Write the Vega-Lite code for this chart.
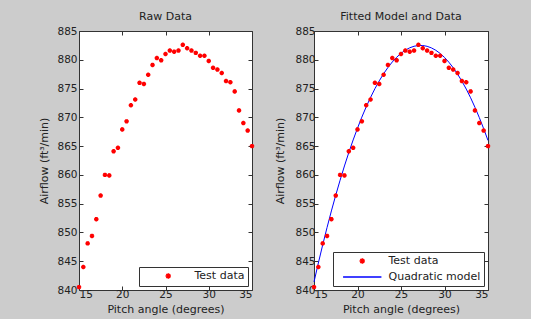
{
  "$schema": "https://vega.github.io/schema/vega-lite/v6.json",
  "background": "#cccccc",
  "padding": {"left": 38, "top": 10, "right": 37, "bottom": 6},
  "spacing": 16,
  "datasets": {
    "raw": [
      {"angle": 15, "airflow": 840.5, "series": "Test data"},
      {"angle": 15.5, "airflow": 844.0, "series": "Test data"},
      {"angle": 16, "airflow": 848.1, "series": "Test data"},
      {"angle": 16.5, "airflow": 849.4, "series": "Test data"},
      {"angle": 17, "airflow": 852.3, "series": "Test data"},
      {"angle": 17.5, "airflow": 856.4, "series": "Test data"},
      {"angle": 18, "airflow": 860.0, "series": "Test data"},
      {"angle": 18.5, "airflow": 859.9, "series": "Test data"},
      {"angle": 19, "airflow": 864.1, "series": "Test data"},
      {"angle": 19.5, "airflow": 864.7, "series": "Test data"},
      {"angle": 20, "airflow": 867.9, "series": "Test data"},
      {"angle": 20.5, "airflow": 869.3, "series": "Test data"},
      {"angle": 21, "airflow": 872.1, "series": "Test data"},
      {"angle": 21.5, "airflow": 873.1, "series": "Test data"},
      {"angle": 22, "airflow": 876.0, "series": "Test data"},
      {"angle": 22.5, "airflow": 875.8, "series": "Test data"},
      {"angle": 23, "airflow": 877.4, "series": "Test data"},
      {"angle": 23.5, "airflow": 879.1, "series": "Test data"},
      {"angle": 24, "airflow": 880.3, "series": "Test data"},
      {"angle": 24.5, "airflow": 879.9, "series": "Test data"},
      {"angle": 25, "airflow": 881.0, "series": "Test data"},
      {"angle": 25.5, "airflow": 881.6, "series": "Test data"},
      {"angle": 26, "airflow": 881.4, "series": "Test data"},
      {"angle": 26.5, "airflow": 881.6, "series": "Test data"},
      {"angle": 27, "airflow": 882.6, "series": "Test data"},
      {"angle": 27.5, "airflow": 882.0, "series": "Test data"},
      {"angle": 28, "airflow": 881.6, "series": "Test data"},
      {"angle": 28.5, "airflow": 881.2, "series": "Test data"},
      {"angle": 29, "airflow": 880.7, "series": "Test data"},
      {"angle": 29.5, "airflow": 880.7, "series": "Test data"},
      {"angle": 30, "airflow": 879.8, "series": "Test data"},
      {"angle": 30.5, "airflow": 878.6, "series": "Test data"},
      {"angle": 31, "airflow": 878.3, "series": "Test data"},
      {"angle": 31.5, "airflow": 877.7, "series": "Test data"},
      {"angle": 32, "airflow": 876.3, "series": "Test data"},
      {"angle": 32.5, "airflow": 876.1, "series": "Test data"},
      {"angle": 33, "airflow": 874.5, "series": "Test data"},
      {"angle": 33.5, "airflow": 871.2, "series": "Test data"},
      {"angle": 34, "airflow": 869.0, "series": "Test data"},
      {"angle": 34.5, "airflow": 867.7, "series": "Test data"},
      {"angle": 35, "airflow": 865.0, "series": "Test data"}
    ],
    "model": [
      {"angle": 15, "airflow": 841.40, "series": "Quadratic model"},
      {"angle": 15.5, "airflow": 844.69, "series": "Quadratic model"},
      {"angle": 16, "airflow": 847.84, "series": "Quadratic model"},
      {"angle": 16.5, "airflow": 850.86, "series": "Quadratic model"},
      {"angle": 17, "airflow": 853.74, "series": "Quadratic model"},
      {"angle": 17.5, "airflow": 856.48, "series": "Quadratic model"},
      {"angle": 18, "airflow": 859.08, "series": "Quadratic model"},
      {"angle": 18.5, "airflow": 861.55, "series": "Quadratic model"},
      {"angle": 19, "airflow": 863.88, "series": "Quadratic model"},
      {"angle": 19.5, "airflow": 866.07, "series": "Quadratic model"},
      {"angle": 20, "airflow": 868.12, "series": "Quadratic model"},
      {"angle": 20.5, "airflow": 870.04, "series": "Quadratic model"},
      {"angle": 21, "airflow": 871.82, "series": "Quadratic model"},
      {"angle": 21.5, "airflow": 873.46, "series": "Quadratic model"},
      {"angle": 22, "airflow": 874.97, "series": "Quadratic model"},
      {"angle": 22.5, "airflow": 876.34, "series": "Quadratic model"},
      {"angle": 23, "airflow": 877.57, "series": "Quadratic model"},
      {"angle": 23.5, "airflow": 878.66, "series": "Quadratic model"},
      {"angle": 24, "airflow": 879.62, "series": "Quadratic model"},
      {"angle": 24.5, "airflow": 880.44, "series": "Quadratic model"},
      {"angle": 25, "airflow": 881.12, "series": "Quadratic model"},
      {"angle": 25.5, "airflow": 881.67, "series": "Quadratic model"},
      {"angle": 26, "airflow": 882.08, "series": "Quadratic model"},
      {"angle": 26.5, "airflow": 882.35, "series": "Quadratic model"},
      {"angle": 27, "airflow": 882.48, "series": "Quadratic model"},
      {"angle": 27.5, "airflow": 882.48, "series": "Quadratic model"},
      {"angle": 28, "airflow": 882.34, "series": "Quadratic model"},
      {"angle": 28.5, "airflow": 882.06, "series": "Quadratic model"},
      {"angle": 29, "airflow": 881.65, "series": "Quadratic model"},
      {"angle": 29.5, "airflow": 881.10, "series": "Quadratic model"},
      {"angle": 30, "airflow": 880.41, "series": "Quadratic model"},
      {"angle": 30.5, "airflow": 879.58, "series": "Quadratic model"},
      {"angle": 31, "airflow": 878.62, "series": "Quadratic model"},
      {"angle": 31.5, "airflow": 877.52, "series": "Quadratic model"},
      {"angle": 32, "airflow": 876.28, "series": "Quadratic model"},
      {"angle": 32.5, "airflow": 874.91, "series": "Quadratic model"},
      {"angle": 33, "airflow": 873.40, "series": "Quadratic model"},
      {"angle": 33.5, "airflow": 871.75, "series": "Quadratic model"},
      {"angle": 34, "airflow": 869.96, "series": "Quadratic model"},
      {"angle": 34.5, "airflow": 868.04, "series": "Quadratic model"},
      {"angle": 35, "airflow": 865.98, "series": "Quadratic model"}
    ]
  },
  "resolve": {
    "scale": {"color": "independent", "shape": "independent"},
    "legend": {"color": "independent", "shape": "independent"}
  },
  "hconcat": [
    {
      "title": "Raw Data",
      "width": 173,
      "height": 259,
      "data": {"name": "raw"},
      "resolve": {"axis": {"x": "independent", "y": "independent"}},
      "layer": [
        {
          "mark": {"type": "point", "filled": false, "strokeWidth": 1.5, "size": 20, "opacity": 1},
          "encoding": {
            "x": {"field": "angle", "type": "quantitative", "scale": {"domain": [15, 35], "nice": false},
                  "axis": {"title": "Pitch angle (degrees)", "values": [15, 20, 25, 30, 35], "labelPadding": 3, "titlePadding": 4}},
            "y": {"field": "airflow", "type": "quantitative", "scale": {"domain": [840, 885], "nice": false, "zero": false},
                  "axis": {"title": "Airflow (ft³/min)", "values": [840, 845, 850, 855, 860, 865, 870, 875, 880, 885], "labelPadding": 6, "titlePadding": 7}},
            "color": {"field": "series", "type": "nominal", "scale": {"domain": ["Test data"], "range": ["#ff0000"]}, "legend": {"title": null}},
            "shape": {"field": "series", "type": "nominal", "scale": {"domain": ["Test data"], "range": ["M-1,0H1M0,-1V1M-0.7,-0.7L0.7,0.7M-0.7,0.7L0.7,-0.7"]}, "legend": {"title": null}}
          }
        },
        {
          "mark": {"type": "point", "opacity": 0},
          "encoding": {
            "x": {"field": "angle", "type": "quantitative", "axis": {"orient": "top", "labels": false, "title": null, "values": [15, 20, 25, 30, 35], "minExtent": 0}},
            "y": {"field": "airflow", "type": "quantitative", "axis": {"orient": "right", "labels": false, "title": null, "values": [840, 845, 850, 855, 860, 865, 870, 875, 880, 885], "minExtent": 0}}
          }
        }
      ]
    },
    {
      "title": "Fitted Model and Data",
      "width": 174,
      "height": 259,
      "resolve": {"axis": {"x": "independent", "y": "independent"}},
      "layer": [
        {
          "data": {"name": "model"},
          "mark": {"type": "line", "strokeWidth": 1, "color": "#0000ff"},
          "encoding": {
            "x": {"field": "angle", "type": "quantitative", "scale": {"domain": [15, 35], "nice": false},
                  "axis": {"title": "Pitch angle (degrees)", "values": [15, 20, 25, 30, 35], "labelPadding": 3, "titlePadding": 4}},
            "y": {"field": "airflow", "type": "quantitative", "scale": {"domain": [840, 885], "nice": false, "zero": false},
                  "axis": {"title": "Airflow (ft³/min)", "values": [840, 845, 850, 855, 860, 865, 870, 875, 880, 885], "labelPadding": 3, "titlePadding": 9}},
            "color": {"field": "series", "type": "nominal", "scale": {"domain": ["Test data", "Quadratic model"], "range": ["#ff0000", "#0000ff"]}, "legend": {"title": null}}
          }
        },
        {
          "data": {"name": "raw"},
          "mark": {"type": "point", "filled": false, "strokeWidth": 1.5, "size": 20, "opacity": 1},
          "encoding": {
            "x": {"field": "angle", "type": "quantitative", "axis": null},
            "y": {"field": "airflow", "type": "quantitative", "axis": null},
            "color": {"field": "series", "type": "nominal", "scale": {"domain": ["Test data", "Quadratic model"], "range": ["#ff0000", "#0000ff"]}, "legend": {"title": null}},
            "shape": {"field": "series", "type": "nominal", "scale": {"domain": ["Test data", "Quadratic model"], "range": ["M-1,0H1M0,-1V1M-0.7,-0.7L0.7,0.7M-0.7,0.7L0.7,-0.7", "M-7,0H7"]}, "legend": {"title": null}}
          }
        },
        {
          "data": {"name": "raw"},
          "mark": {"type": "point", "opacity": 0},
          "encoding": {
            "x": {"field": "angle", "type": "quantitative", "axis": {"orient": "top", "labels": false, "title": null, "values": [15, 20, 25, 30, 35], "minExtent": 0}},
            "y": {"field": "airflow", "type": "quantitative", "axis": {"orient": "right", "labels": false, "title": null, "values": [840, 845, 850, 855, 860, 865, 870, 875, 880, 885], "minExtent": 0}}
          }
        }
      ]
    }
  ],
  "config": {
    "font": "DejaVu Sans",
    "view": {"stroke": "#333333", "fill": "white", "strokeWidth": 1},
    "axis": {"grid": false, "domain": false, "tickSize": -4, "tickColor": "#333333", "labelFont": "DejaVu Sans", "labelFontSize": 10.5, "labelColor": "#222222", "titleFont": "DejaVu Sans", "titleFontSize": 11, "titleFontWeight": "normal", "titleColor": "#222222"},
    "title": {"font": "DejaVu Sans", "fontSize": 11, "fontWeight": "normal", "color": "#222222", "offset": 4},
    "legend": {"orient": "bottom-right", "offset": 4, "strokeColor": "#333333", "fillColor": "white", "padding": 3.5, "labelFont": "DejaVu Sans", "labelFontSize": 11, "labelColor": "#222222", "symbolSize": 30, "symbolStrokeWidth": 1.5, "symbolOffset": 20.25, "labelOffset": 20.75, "rowPadding": 3, "labelExpr": "datum.label + ' '"}
  }
}
